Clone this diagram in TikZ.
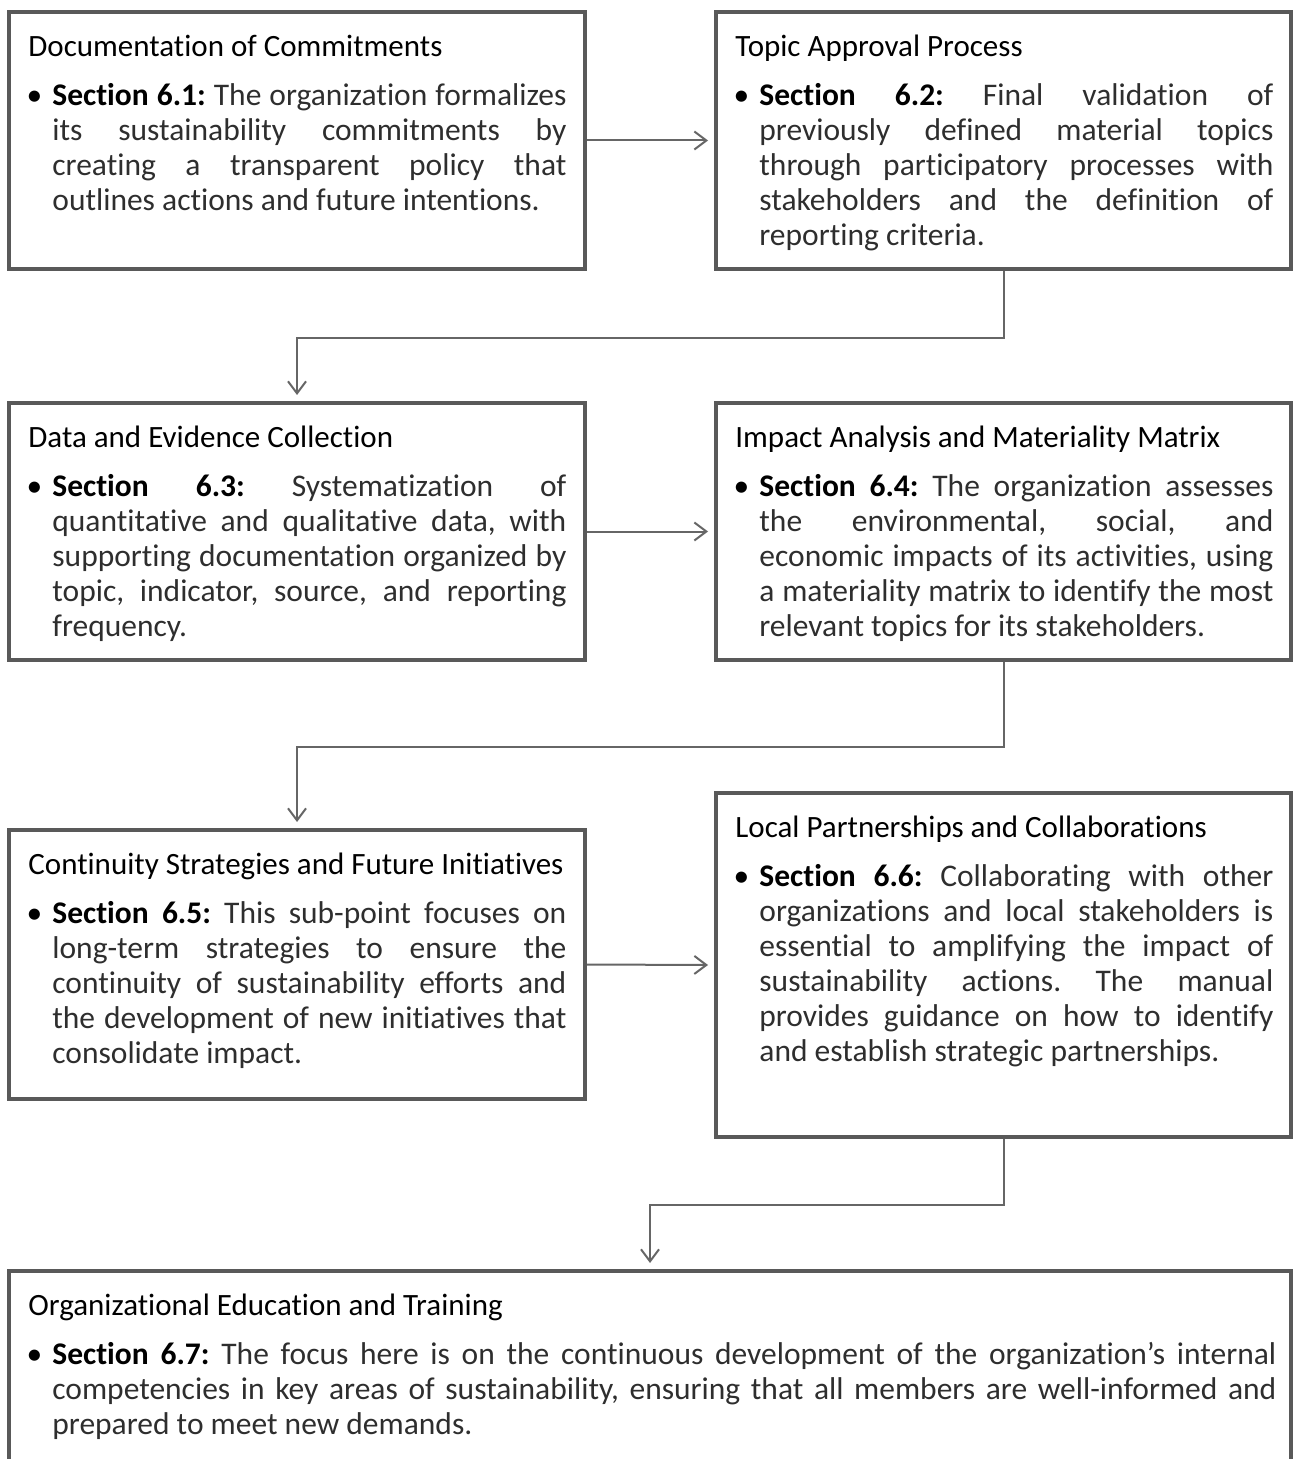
\documentclass[tikz,border=0pt]{standalone}
\usepackage{fontspec}
\setmainfont{Carlito}[Ligatures=NoCommon]
\usetikzlibrary{arrows.meta,fit}
\definecolor{boxgray}{HTML}{595959}
\definecolor{arrgray}{HTML}{666666}
\definecolor{bodytext}{HTML}{2E2E2E}
\tikzset{
  box/.style={draw=boxgray, line width=2pt, inner sep=0pt, rectangle},
  conn/.style={draw=arrgray, line width=1pt, -{Straight Barb[length=6pt,width=9pt,line width=1pt]}},
  txt/.style={anchor=north west, inner sep=0pt, align=justify, font=\fontsize{15.75}{17.5}\selectfont},
}
\newcommand\boxtitle[1]{\frenchspacing\hyphenpenalty=10000\relax\exhyphenpenalty=10000\relax\tolerance=10000\relax\emergencystretch=20pt\relax\noindent\strut{\fontsize{15.5}{17.5}\selectfont\mbox{#1}}\par\vspace{7pt}}
\newcommand\boxbody[2]{{\leftskip=12pt\relax\parindent=0pt\relax\noindent\llap{\textbullet\kern5pt}\textbf{#1} {\color{bodytext}#2}\par}}
\begin{document}
\begin{tikzpicture}[x=0.5pt,y=-0.5pt]
\useasboundingbox (0,0) rectangle (1295,1459);
\clip (0,0) rectangle (1295,1459);
% boxes
\node[box, fit={(9,12) (585,269)}] (b1) {};
\node[box, fit={(716,12) (1291,269)}] (b2) {};
\node[box, fit={(9,403) (585,660)}] (b3) {};
\node[box, fit={(716,403) (1291,660)}] (b4) {};
\node[box, fit={(9,830) (585,1099)}] (b5) {};
\node[box, fit={(716,793) (1291,1137)}] (b6) {};
\node[box, fit={(9,1271) (1291,1600)}] (b7) {};
% texts
\node[txt, text width=269pt] (t1) at (28,32) {\boxtitle{Documentation of Commitments}\boxbody{Section 6.1:}{The organization formalizes\linebreak its sustainability commitments by\linebreak creating a transparent policy that\linebreak outlines actions and future intentions.}};
\node[txt, text width=269pt] (t2) at (735,32) {\boxtitle{Topic Approval Process}\boxbody{Section 6.2:}{Final validation of\linebreak previously defined material topics\linebreak through participatory processes with\linebreak stakeholders and the definition of\linebreak reporting criteria.}};
\node[txt, text width=269pt] (t3) at (28,423) {\boxtitle{Data and Evidence Collection}\boxbody{Section 6.3:}{Systematization of\linebreak quantitative and qualitative data, with\linebreak supporting documentation organized by\linebreak topic, indicator, source, and reporting\linebreak frequency.}};
\node[txt, text width=269pt] (t4) at (735,423) {\boxtitle{Impact Analysis and Materiality Matrix}\boxbody{Section 6.4:}{The organization assesses\linebreak the environmental, social, and\linebreak economic impacts of its activities, using\linebreak a materiality matrix to identify the most\linebreak relevant topics for its stakeholders.}};
\node[txt, text width=269pt] (t5) at (28,850) {\boxtitle{Continuity Strategies and Future Initiatives}\boxbody{Section 6.5:}{This sub-point focuses on\linebreak long-term strategies to ensure the\linebreak continuity of sustainability efforts and\linebreak the development of new initiatives that\linebreak consolidate impact.}};
\node[txt, text width=269pt] (t6) at (735,813) {\boxtitle{Local Partnerships and Collaborations}\boxbody{Section 6.6:}{Collaborating with other\linebreak organizations and local stakeholders is\linebreak essential to amplifying the impact of\linebreak sustainability actions. The manual\linebreak provides guidance on how to identify\linebreak and establish strategic partnerships.}};
\node[txt, text width=624pt] (t7) at (28,1291) {\boxtitle{Organizational Education and Training}\boxbody{Section 6.7:}{The focus here is on the continuous development of the organization’s internal\linebreak competencies in key areas of sustainability, ensuring that all members are well-informed and\linebreak prepared to meet new demands.}};
% connectors
\draw[conn] (b1.east) -- ([xshift=-3pt]b2.west);
\draw[conn] (b2.south) -- ++(0,67) -| ([yshift=3pt]b3.north);
\draw[conn] (b3.east) -- ([xshift=-3pt]b4.west);
\draw[conn] (b4.south) -- ++(0,85) -| ([yshift=3pt]b5.north);
\draw[conn] (b5.east) -- ([xshift=-3pt]b6.west);
\draw[conn] (b6.south) -- ++(0,66) -| ([yshift=3pt]b7.north);
\end{tikzpicture}
\end{document}
